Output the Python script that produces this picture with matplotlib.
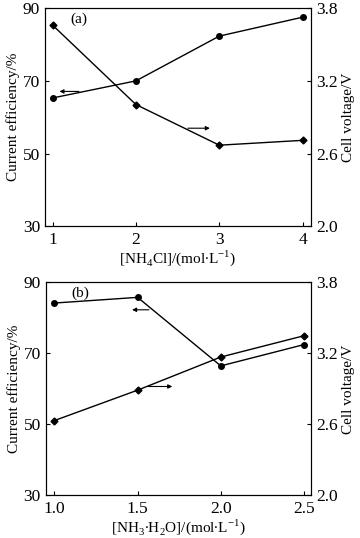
import matplotlib
matplotlib.use("Agg")
import matplotlib.pyplot as plt

plt.rcParams['font.family'] = ['Liberation Serif', 'DejaVu Serif']
plt.rcParams['mathtext.fontset'] = 'custom'
plt.rcParams['mathtext.rm'] = 'Liberation Serif'
plt.rcParams['font.size'] = 11

# (a) NH4Cl concentration
x_a = [1, 2, 3, 4]
eff_a = [65.3, 70.0, 82.3, 87.5]
volt_a = [3.66, 3.005, 2.67, 2.71]

# (b) NH3·H2O concentration
x_b = [1.0, 1.5, 2.0, 2.5]
eff_b = [84.2, 85.8, 66.5, 72.5]
volt_b = [2.633, 2.89, 3.17, 3.35]

fig = plt.figure(figsize=(3.6, 5.38), dpi=100)
ax_a = fig.add_axes([0.125, 0.579, 0.739, 0.406])
ax_b = fig.add_axes([0.127, 0.079, 0.737, 0.396])


def panel(ax, x, eff, volt, xlim, xticks, xlabel, tag, larrow, rarrow):
    ax2 = ax.twinx()
    ax.plot(x, eff, '-o', color='black', lw=1.0, ms=4)
    ax2.plot(x, volt, '-D', color='black', lw=1.0, ms=3.5)
    ax.set_xlim(*xlim)
    ax.set_ylim(30, 90)
    ax2.set_ylim(2.0, 3.8)
    ax.set_xticks(xticks)
    ax.set_yticks([30, 50, 70, 90])
    ax2.set_yticks([2.0, 2.6, 3.2, 3.8])
    ax2.set_yticklabels(['2.0', '2.6', '3.2', '3.8'])
    ax.tick_params(direction='in', length=3, width=0.8, labelsize=12.5)
    ax.tick_params(axis='x', pad=4)
    ax2.tick_params(direction='in', length=3, width=0.8, labelsize=12.5)
    ax.set_xlabel(xlabel, labelpad=0)
    ax.set_ylabel('Current efficiency/%', labelpad=2)
    ax2.set_ylabel('Cell voltage/V', labelpad=3)
    ax.text(0.095, 0.95, tag, transform=ax.transAxes, va='center', ha='left')
    # arrows indicating which axis each curve belongs to
    ax.annotate('', xy=(larrow[0], larrow[2]), xytext=(larrow[1], larrow[2]),
                arrowprops=dict(arrowstyle='-|>', color='black', lw=0.8,
                                mutation_scale=6))
    ax.annotate('', xy=(rarrow[1], rarrow[2]), xytext=(rarrow[0], rarrow[2]),
                arrowprops=dict(arrowstyle='-|>', color='black', lw=0.8,
                                mutation_scale=6))
    for a in (ax, ax2):
        for s in a.spines.values():
            s.set_linewidth(0.8)


panel(ax_a, x_a, eff_a, volt_a, (0.91, 4.1), [1, 2, 3, 4],
      r'[NH$_4$Cl]/(mol$\bullet$L$^{-1}$)', '(a)',
      (1.05, 1.35, 67.1), (2.59, 2.92, 57.0))
panel(ax_b, x_b, eff_b, volt_b, (0.948, 2.542), [1.0, 1.5, 2.0, 2.5],
      r'[NH$_3$$\bullet$H$_2$O]/(mol$\bullet$L$^{-1}$)', '(b)',
      (1.45, 1.585, 82.3), (1.545, 1.725, 60.7))
ax_b.set_xticklabels(['1.0', '1.5', '2.0', '2.5'])

fig.savefig('out.png', dpi=100)
